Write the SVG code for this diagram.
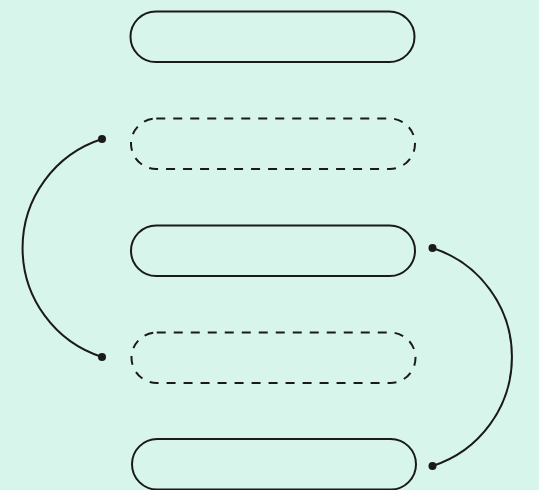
<svg xmlns="http://www.w3.org/2000/svg" width="539" height="490" viewBox="0 0 539 490">
<style>
.n{fill:none;stroke:#1a1a1a;stroke-width:2}
.d{stroke-dasharray:9 8}
.c{fill:none;stroke:#1a1a1a;stroke-width:2}
.p{fill:#1a1a1a}
</style>
<rect width="539" height="490" fill="#d8f5ec"/>
<g id="node1"><rect class="n" x="130.5" y="11.5" width="284" height="50.5" rx="25.25"/></g>
<g id="node2"><rect class="n d" x="131" y="118.5" width="284" height="50.5" rx="25.25"/></g>
<g id="node3"><rect class="n" x="131" y="225.5" width="284" height="50.5" rx="25.25"/></g>
<g id="node4"><rect class="n d" x="131.5" y="332.5" width="284" height="50.5" rx="25.25"/></g>
<g id="node5"><rect class="n" x="132" y="439" width="284" height="50.5" rx="25.25"/></g>
<g id="connectors">
<path class="c" d="M102,139 A114.5,114.5 0 0 0 102,357"/>
<circle class="p" cx="102" cy="139" r="4"/>
<circle class="p" cx="102" cy="357" r="4"/>
<path class="c" d="M432.5,248 A114.5,114.5 0 0 1 432.5,466"/>
<circle class="p" cx="432.5" cy="248" r="4"/>
<circle class="p" cx="432.5" cy="466" r="4"/>
</g>
</svg>
